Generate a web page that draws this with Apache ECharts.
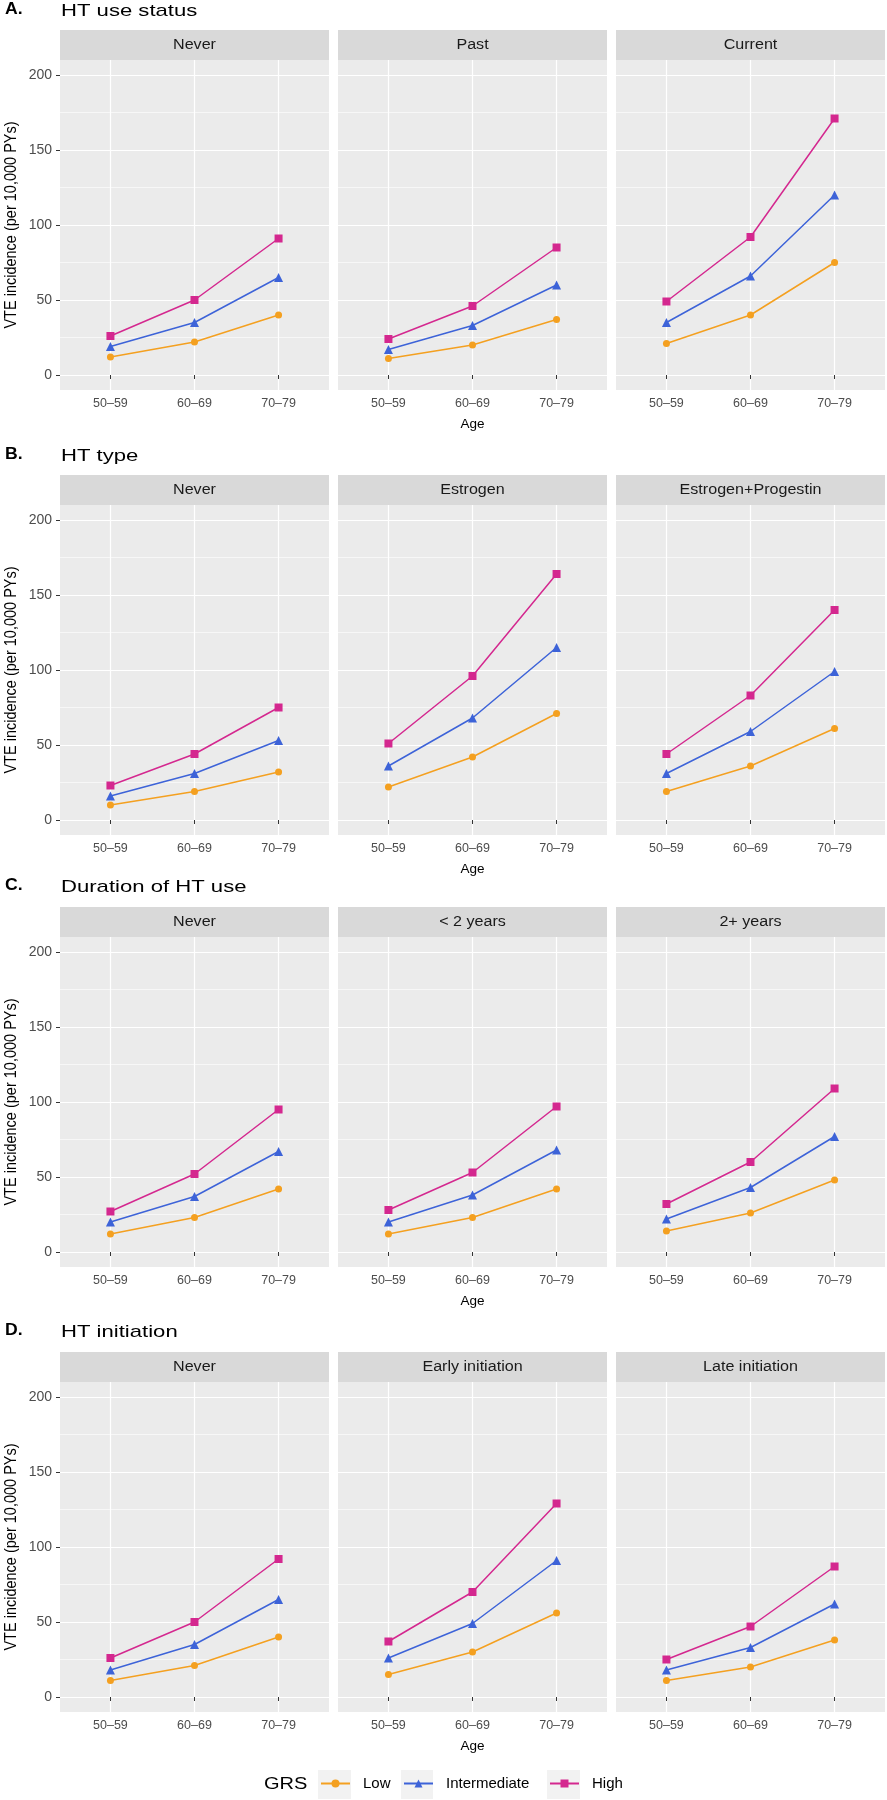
<!DOCTYPE html>
<html><head><meta charset="utf-8">
<script src="https://cdn.jsdelivr.net/npm/echarts@6/dist/echarts.min.js"></script>
<style>html,body{margin:0;padding:0;background:#fff}#c{width:887px;height:1800px}</style>
</head><body><div id="c"></div>
<script>
// ---------- data ----------
const ageGroups = ['50–59', '60–69', '70–79'];
const grsLevels = ['Low', 'Intermediate', 'High'];
const yTicks = [0, 50, 100, 150, 200];
const yMinorTicks = [25, 75, 125, 175];
const sectionLetters = ['A.', 'B.', 'C.', 'D.'];
const sectionTitles = ['HT use status', 'HT type', 'Duration of HT use', 'HT initiation'];
const panelLabels = [
  ['Never', 'Past', 'Current'],
  ['Never', 'Estrogen', 'Estrogen+Progestin'],
  ['Never', '< 2 years', '2+ years'],
  ['Never', 'Early initiation', 'Late initiation']
];
// each: [panel1, panel2, panel3], each panel = values at 50–59, 60–69, 70–79
const aLow  = [[12, 22, 40], [11, 20, 37], [21, 40, 75]];
const aInt  = [[19, 35, 65], [17, 33, 60], [35, 66, 120]];
const aHigh = [[26, 50, 91], [24, 46, 85], [49, 92, 171]];
const bLow  = [[10, 19, 32], [22, 42, 71], [19, 36, 61]];
const bInt  = [[16, 31, 53], [36, 68, 115], [31, 59, 99]];
const bHigh = [[23, 44, 75], [51, 96, 164], [44, 83, 140]];
const cLow  = [[12, 23, 42], [12, 23, 42], [14, 26, 48]];
const cInt  = [[20, 37, 67], [20, 38, 68], [22, 43, 77]];
const cHigh = [[27, 52, 95], [28, 53, 97], [32, 60, 109]];
const dLow  = [[11, 21, 40], [15, 30, 56], [11, 20, 38]];
const dInt  = [[18, 35, 65], [26, 49, 91], [18, 33, 62]];
const dHigh = [[26, 50, 92], [37, 70, 129], [25, 47, 87]];
const sectionData = [[aLow, aInt, aHigh], [bLow, bInt, bHigh], [cLow, cInt, cHigh], [dLow, dInt, dHigh]];

// ---------- layout / style ----------
const FONT = 'Liberation Sans';
const colLeft = [60, 338, 616];
const panelW = 269;
const rowY200 = [75, 520, 952, 1397];   // pixel row of the 200 gridline
const pxPerUnit = 1.5;
const colors = ['#F4A020', '#3D63D8', '#D4288F'];
const symbols = ['circle', 'triangle', 'rect'];
const symbolSizes = [7, 9, 8];
const titleY = [10, 455, 886, 1331];

const grids = [], xAxes = [], yAxes = [], series = [], graphics = [];
for (let r = 0; r < 4; r++) {
  const plotTop = rowY200[r] - 10 * pxPerUnit;
  const plotH = 220 * pxPerUnit;
  for (let c = 0; c < 3; c++) {
    const g = r * 3 + c;
    grids.push({left: colLeft[c], top: plotTop, width: panelW, height: plotH,
      show: true, backgroundColor: '#EBEBEB', borderWidth: 0, containLabel: false});
    xAxes.push({
      gridIndex: g, type: 'value', min: 0.4, max: 3.6,
      axisLine: {show: false},
      axisTick: {show: true, length: 4, customValues: [1, 2, 3], lineStyle: {color: '#333333', width: 1}},
      axisLabel: {customValues: [1, 2, 3], formatter: v => ageGroups[Math.round(v) - 1],
        color: '#4D4D4D', fontSize: 12.5, margin: 7, fontFamily: FONT},
      splitLine: {show: true, lineStyle: {color: '#FFFFFF', width: 1.2}},
      name: c === 1 ? 'Age' : '', nameLocation: 'middle', nameGap: 27,
      nameTextStyle: {fontSize: 13.5, color: '#000', fontFamily: FONT}
    });
    yAxes.push({
      gridIndex: g, type: 'value', min: -10, max: 210, position: 'left',
      axisLine: {show: false},
      axisTick: {show: c === 0, length: 4, customValues: yTicks, lineStyle: {color: '#333333', width: 1}},
      axisLabel: {show: c === 0, customValues: yTicks, color: '#4D4D4D', fontSize: 14, margin: 8, fontFamily: FONT},
      splitLine: {show: true, lineStyle: {color: '#FFFFFF', width: 1.2}}
    });
    yAxes.push({
      gridIndex: g, type: 'value', min: -10, max: 210, position: 'left',
      axisLine: {show: false},
      axisTick: {show: false, customValues: yMinorTicks},
      axisLabel: {show: false, customValues: yMinorTicks},
      splitLine: {show: true, lineStyle: {color: '#FFFFFF', width: 0.6}}
    });
    for (let k = 0; k < 3; k++) {
      const vals = sectionData[r][k][c];
      series.push({
        type: 'line', name: grsLevels[k], xAxisIndex: g, yAxisIndex: 2 * g,
        data: vals.map((v, i) => [i + 1, v]),
        symbol: symbols[k], symbolSize: symbolSizes[k],
        itemStyle: {color: colors[k]},
        lineStyle: {color: colors[k], width: 1.5},
        emphasis: {disabled: true}, animation: false, z: 3 + k
      });
    }
    // facet strip
    graphics.push({type: 'rect', shape: {x: colLeft[c], y: rowY200[r] - 45, width: panelW, height: 30},
      style: {fill: '#D9D9D9'}, silent: true});
    graphics.push({type: 'text', x: colLeft[c] + panelW / 2, y: rowY200[r] - 30, scaleX: 1.15,
      style: {text: panelLabels[r][c], fontSize: 14, fontFamily: FONT, fill: '#1A1A1A',
        textAlign: 'center', textVerticalAlign: 'middle'}, silent: true});
  }
  // section titles
  graphics.push({type: 'text', x: 5, y: titleY[r], scaleX: 1.1,
    style: {text: sectionLetters[r], fontSize: 16, fontWeight: 'bold', fontFamily: FONT, fill: '#000',
      textAlign: 'left', textVerticalAlign: 'middle'}, silent: true});
  graphics.push({type: 'text', x: 61, y: titleY[r] + 1, scaleX: 1.3,
    style: {text: sectionTitles[r], fontSize: 17, fontFamily: FONT, fill: '#000',
      textAlign: 'left', textVerticalAlign: 'middle'}, silent: true});
  // y axis title
  graphics.push({type: 'text', x: 11, y: rowY200[r] + 150, rotation: Math.PI / 2, scaleY: 1.15,
    style: {text: 'VTE incidence (per 10,000 PYs)', fontSize: 14.5, fontFamily: FONT, fill: '#000',
      textAlign: 'center', textVerticalAlign: 'middle'}, silent: true});
}
// legend
const keyLeft = [318, 401, 547];
const keyW = [33, 32, 33];
keyLeft.forEach((x, k) => graphics.push({type: 'rect', shape: {x: x, y: 1770, width: keyW[k], height: 29},
  style: {fill: '#F2F2F2'}, silent: true}));
graphics.push({type: 'text', x: 264, y: 1785, scaleX: 1.25,
  style: {text: 'GRS', fontSize: 16, fontFamily: FONT, fill: '#000', textAlign: 'left', textVerticalAlign: 'middle'}, silent: true});

const legends = grsLevels.map((n, k) => ({
  data: [n], left: keyLeft[k] + 2, top: 1776, padding: 0, itemWidth: 29, itemHeight: 10,
  selectedMode: false,
  textStyle: {fontSize: 15, color: '#000', fontFamily: FONT, padding: [0, 0, 0, 8]}
}));

const chart = echarts.init(document.getElementById('c'), null, {renderer: 'canvas'});
chart.setOption({
  animation: false,
  textStyle: {fontFamily: FONT},
  grid: grids, xAxis: xAxes, yAxis: yAxes, series: series,
  legend: legends, graphic: graphics
});
</script></body></html>
